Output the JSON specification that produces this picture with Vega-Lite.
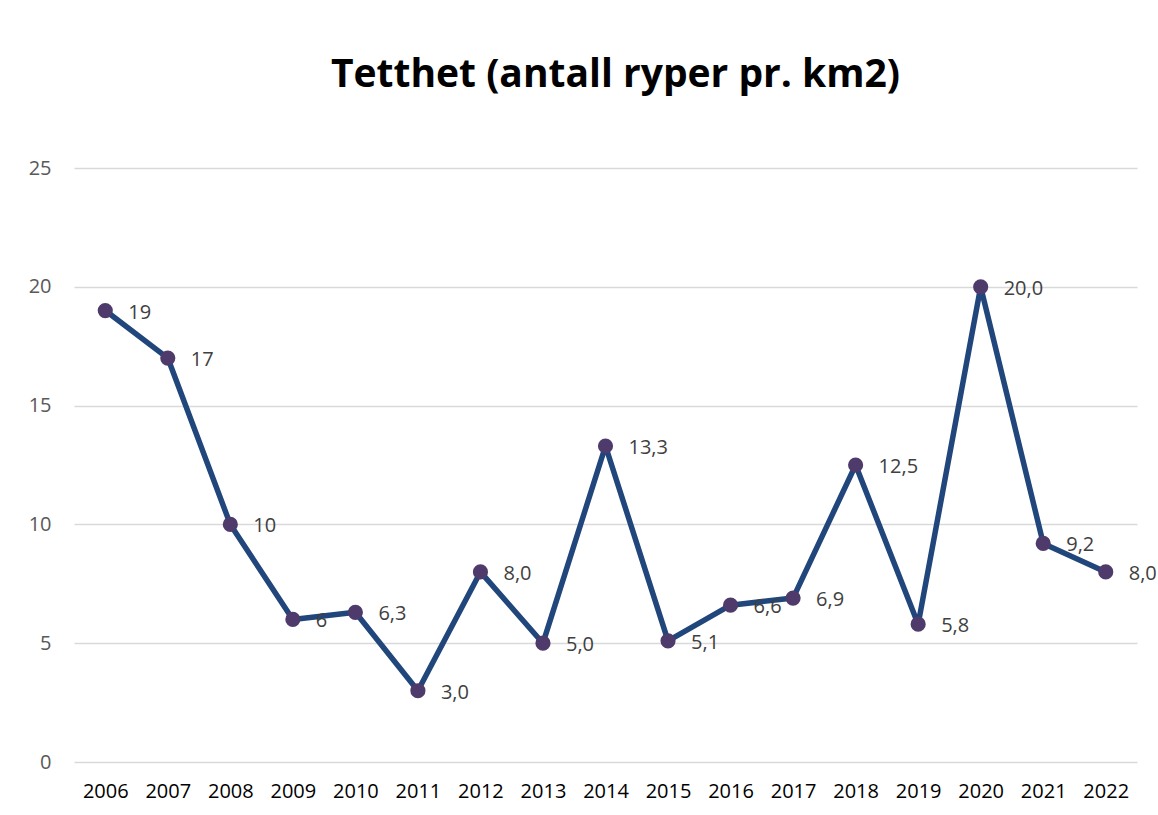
{
  "$schema": "https://vega.github.io/schema/vega-lite/v6.json",
  "width": 1063,
  "height": 594,
  "autosize": {"type": "none"},
  "padding": {"left": 74, "top": 168, "right": 21, "bottom": 53},
  "background": "white",
  "title": {
    "text": "Tetthet (antall ryper pr. km2)",
    "font": "Open Sans",
    "fontSize": 39,
    "fontWeight": "bold",
    "color": "#000000",
    "anchor": "middle",
    "baseline": "alphabetic",
    "offset": 32,
    "dx": 10
  },
  "data": {
    "values": [
      {"year": "2006", "value": 19, "label": "19"},
      {"year": "2007", "value": 17, "label": "17"},
      {"year": "2008", "value": 10, "label": "10"},
      {"year": "2009", "value": 6, "label": "6"},
      {"year": "2010", "value": 6.3, "label": "6,3"},
      {"year": "2011", "value": 3.0, "label": "3,0"},
      {"year": "2012", "value": 8.0, "label": "8,0"},
      {"year": "2013", "value": 5.0, "label": "5,0"},
      {"year": "2014", "value": 13.3, "label": "13,3"},
      {"year": "2015", "value": 5.1, "label": "5,1"},
      {"year": "2016", "value": 6.6, "label": "6,6"},
      {"year": "2017", "value": 6.9, "label": "6,9"},
      {"year": "2018", "value": 12.5, "label": "12,5"},
      {"year": "2019", "value": 5.8, "label": "5,8"},
      {"year": "2020", "value": 20.0, "label": "20,0"},
      {"year": "2021", "value": 9.2, "label": "9,2"},
      {"year": "2022", "value": 8.0, "label": "8,0"}
    ]
  },
  "encoding": {
    "x": {
      "field": "year",
      "type": "ordinal",
      "scale": {"type": "point", "padding": 0.5},
      "axis": {
        "title": null,
        "labelAngle": 0,
        "domain": false,
        "ticks": false,
        "grid": false,
        "labelFont": "Open Sans",
        "labelFontSize": 20,
        "labelColor": "#000000",
        "labelPadding": 19,
        "labelBaseline": "top"
      }
    },
    "y": {
      "field": "value",
      "type": "quantitative",
      "scale": {"domain": [0, 25], "nice": false},
      "axis": {
        "title": null,
        "values": [0, 5, 10, 15, 20, 25],
        "domain": false,
        "ticks": false,
        "grid": true,
        "gridColor": "#D9D9D9",
        "gridWidth": 1.5,
        "labelFont": "Open Sans",
        "labelFontSize": 20,
        "labelColor": "#595959",
        "labelPadding": 23
      }
    }
  },
  "layer": [
    {
      "mark": {"type": "line", "color": "#21467C", "strokeWidth": 5.5, "strokeJoin": "round", "strokeCap": "round"}
    },
    {
      "mark": {"type": "point", "filled": true, "color": "#4E3B6C", "opacity": 1, "size": 230}
    },
    {
      "mark": {"type": "text", "align": "left", "baseline": "middle", "dx": 23, "dy": 2, "font": "Open Sans", "fontSize": 20, "color": "#404040"},
      "encoding": {"text": {"field": "label"}}
    }
  ],
  "config": {"view": {"stroke": null}}
}
